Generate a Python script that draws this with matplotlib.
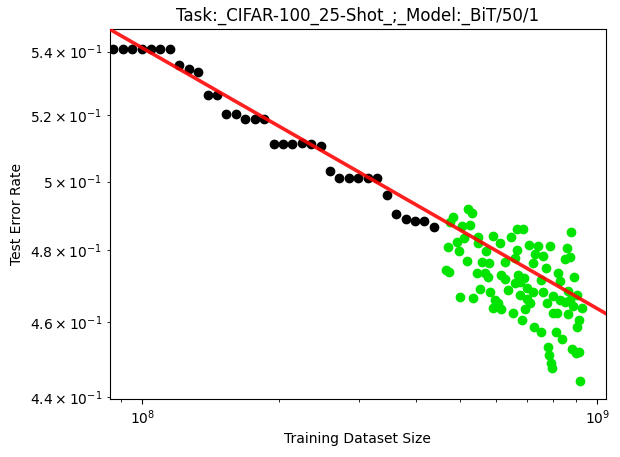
import numpy as np
import matplotlib
matplotlib.use("Agg")
import matplotlib.pyplot as plt

# Black series (training subsets), dataset size in millions
black_x_m = [86.4, 90.6, 95.0, 99.6, 104.5, 109.6, 115.0, 120.6, 126.5, 132.7,
             139.2, 146.0, 153.1, 160.6, 168.4, 176.7, 185.3, 194.4, 203.9, 213.8,
             224.3, 235.2, 246.7, 258.8, 271.3, 284.7, 298.6, 313.3, 328.5, 344.6,
             361.4, 379.1, 397.6, 417.1, 437.4]
black_y = [0.5408, 0.5408, 0.5408, 0.5408, 0.5408, 0.5408, 0.5408,
           0.5358, 0.5346, 0.5336,
           0.5262, 0.5262,
           0.5203, 0.5203, 0.5190, 0.5190, 0.5190,
           0.5114, 0.5114, 0.5114, 0.5115, 0.5112, 0.5108,
           0.5032, 0.5012, 0.5012, 0.5012, 0.5012, 0.5011,
           0.4960, 0.4904, 0.4891, 0.4884, 0.4884, 0.4868]

# Green series (held-out runs), dataset size in millions
green_x_m = [521, 530, 482, 474, 505, 525, 510, 548, 546, 591,
             611, 648, 665, 688, 491, 469, 497, 571, 668, 659,
             518, 557, 578, 627, 465, 472, 543, 566, 574, 616,
             627, 670, 690, 659, 637, 552, 499, 534, 596, 606,
             591, 616, 875, 709, 742, 787, 857, 730, 761, 871,
             849, 721, 771, 821, 828, 889, 751, 700, 723, 761,
             800, 864, 828, 849, 871, 904, 886, 924, 676, 711,
             694, 774, 800, 817, 864, 913, 901, 654, 684, 726,
             752, 811, 838, 879, 898, 913, 780, 784, 791, 796,
             916, 702, 581, 676]
green_y = [0.4919, 0.4907, 0.4895, 0.4881, 0.4870, 0.4873, 0.4835, 0.4839, 0.4822, 0.4842,
           0.4821, 0.4838, 0.4861, 0.4861, 0.4823, 0.4809, 0.4799, 0.4799, 0.4801, 0.4778,
           0.4770, 0.4768, 0.4764, 0.4768, 0.4745, 0.4740, 0.4736, 0.4736, 0.4726, 0.4731,
           0.4720, 0.4731, 0.4722, 0.4709, 0.4689, 0.4691, 0.4670, 0.4666, 0.4661, 0.4652,
           0.4639, 0.4637, 0.4852, 0.4816, 0.4814, 0.4813, 0.4806, 0.4789, 0.4784, 0.4782,
           0.4775, 0.4765, 0.4750, 0.4736, 0.4715, 0.4724, 0.4717, 0.4694, 0.4684, 0.4682,
           0.4672, 0.4687, 0.4661, 0.4657, 0.4661, 0.4675, 0.4646, 0.4638, 0.4675, 0.4652,
           0.4637, 0.4652, 0.4626, 0.4626, 0.4623, 0.4605, 0.4588, 0.4625, 0.4606, 0.4588,
           0.4575, 0.4575, 0.4554, 0.4527, 0.4518, 0.4521, 0.4534, 0.4512, 0.4490, 0.4476,
           0.4444, 0.4663, 0.4684, 0.4711]

# Power-law fit: y = fit_a * (x / 1e8) ** fit_b
fit_a = 0.5412
fit_b = -0.06706

title = "Task:_CIFAR-100_25-Shot_;_Model:_BiT/50/1"
xlabel = "Training Dataset Size"
ylabel = "Test Error Rate"

fig = plt.figure(figsize=(6.2, 4.57), dpi=100)
ax = fig.add_axes([109.5 / 620, 58.5 / 457, 496 / 620, 369.5 / 457])

bx = np.array(black_x_m) * 1e6
gx = np.array(green_x_m) * 1e6
ax.scatter(bx, black_y, color="black", zorder=2)
ax.scatter(gx, green_y, color="#00e400", zorder=2)

xl = np.logspace(7.8, 9.2, 200)
ax.plot(xl, fit_a * (xl / 1e8) ** fit_b, color="red", alpha=0.88, lw=2.6, zorder=3)

ax.set_xscale("log")
ax.set_yscale("log")
ax.set_xlim(8.47e7, 1.043e9)
ax.set_ylim(0.4397, 0.5473)
ax.set_title(title)
ax.set_xlabel(xlabel)
ax.set_ylabel(ylabel)

fig.savefig("out.png", dpi=100)
